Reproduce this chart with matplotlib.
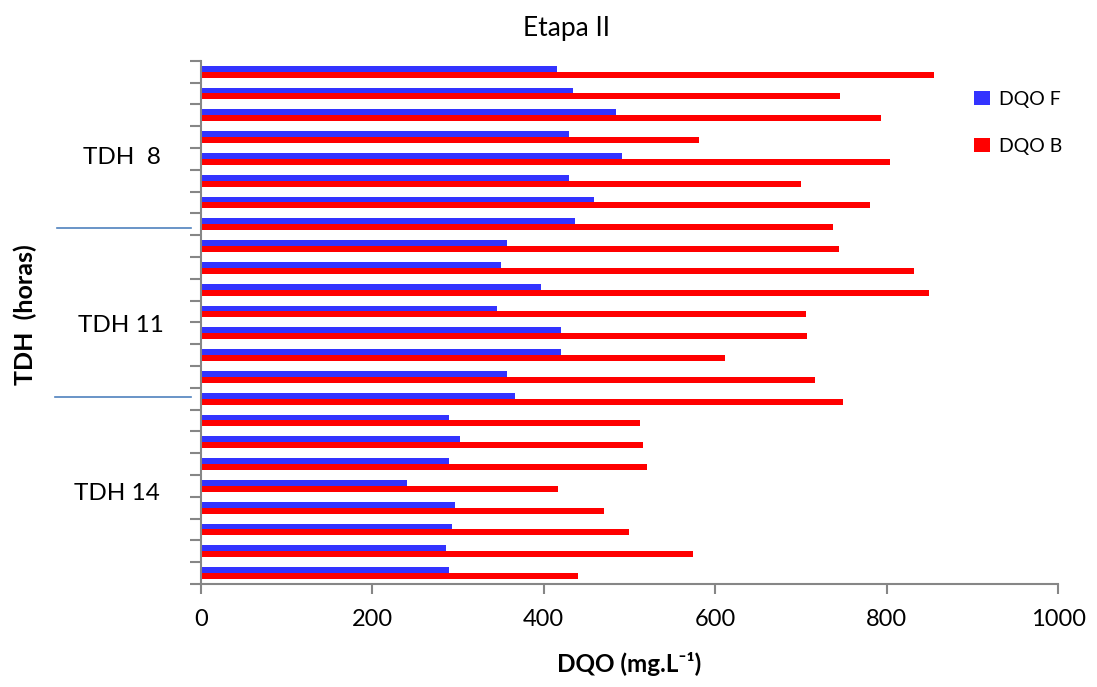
import numpy as np
import matplotlib.pyplot as plt

plt.rcParams['font.family'] = ['Lato', 'DejaVu Sans']

# DQO por fila, de arriba hacia abajo (TDH 8, TDH 11, TDH 14)
dqo_f = [415, 434, 484, 429, 491, 429, 459, 436,
         357, 350, 397, 346, 420, 420, 357, 366,
         289, 302, 289, 240, 296, 293, 286, 289]
dqo_b = [855, 746, 793, 581, 804, 700, 781, 737,
         744, 832, 850, 706, 707, 611, 716, 749,
         512, 516, 521, 417, 470, 500, 574, 440]
grupos = ["TDH  8", "TDH 11", "TDH 14"]
xticks = [0, 200, 400, 600, 800, 1000]

n = len(dqo_f)
y = n - 0.5 - np.arange(n)
h = 0.27
gris = '#868686'

fig = plt.figure(figsize=(10.97, 6.87), dpi=100)
ax = fig.add_axes([0.183, 0.150, 0.7815, 0.7616])

ax.barh(y + h/2, dqo_f, height=h, color='#3333FF', label='DQO F')
ax.barh(y - h/2, dqo_b, height=h, color='#FF0000', label='DQO B')

ax.set_xlim(0, 1000)
ax.set_ylim(0, n)
ax.set_xticks(xticks)
ax.set_yticks(np.arange(n + 1))
ax.set_yticklabels([])
ax.tick_params(axis='y', direction='out', length=8, width=1.5, color=gris)
ax.tick_params(axis='x', direction='out', length=7, width=1.5, color=gris,
               labelsize=17, pad=11)
for s in ['top', 'right']:
    ax.spines[s].set_visible(False)
for s in ['left', 'bottom']:
    ax.spines[s].set_color(gris)
    ax.spines[s].set_linewidth(1.5)

# etiquetas de grupo y separadores
for txt, yy, xx in zip(grupos, [19.54, 11.87, 4.13], [-92, -93, -98]):
    ax.text(xx, yy, txt, fontsize=17.5, ha='center', va='center')
for yy, x0 in [(16.33, -168), (8.57, -170)]:
    ax.plot([x0, -11], [yy, yy], color='#4F81BD', lw=1.2, clip_on=False)

fig.text(0.516, 0.958, "Etapa II", fontsize=19, ha='center', va='center')
ax.set_xlabel("DQO (mg.L⁻¹)", fontsize=17.5, fontweight='bold', labelpad=16)
fig.text(0.023, 0.542, "TDH  (horas)", fontsize=18, fontweight='bold',
         rotation=90, ha='center', va='center')

ax.legend(loc='upper left', bbox_to_anchor=(0.882, 0.976), frameon=False,
          fontsize=14, handlelength=0.82, handleheight=0.72, labelspacing=1.55,
          handletextpad=0.45)

fig.savefig('out.png', dpi=100)
